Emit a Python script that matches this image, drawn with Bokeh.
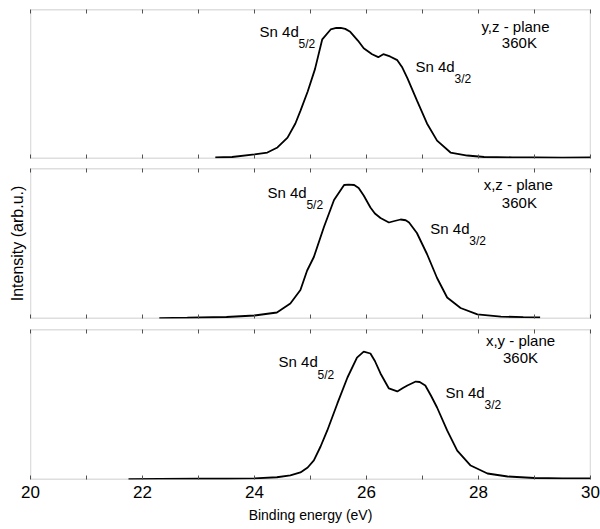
from bokeh.plotting import figure
from bokeh.layouts import column
from bokeh.models import Range1d, FixedTicker, LinearAxis, Label, BoxAnnotation
from bokeh.embed import file_html
from bokeh.resources import INLINE

# ---- data ----
energy_yz = [23.30, 23.6, 24.0, 24.23, 24.41, 24.59, 24.73, 24.82, 24.95, 25.08, 25.21, 25.36,
             25.46, 25.54, 25.62, 25.71, 25.85, 25.95, 26.1, 26.21, 26.3, 26.42, 26.55, 26.64,
             26.73, 26.9, 27.08, 27.26, 27.5, 27.8, 28.1, 28.6, 29.0, 29.5, 30.0]
intensity_yz = [0.007, 0.010, 0.027, 0.040, 0.074, 0.140, 0.235, 0.320, 0.450, 0.600, 0.800, 0.866,
                0.876, 0.877, 0.870, 0.850, 0.790, 0.740, 0.700, 0.680, 0.700, 0.685, 0.660, 0.610,
                0.540, 0.390, 0.235, 0.120, 0.040, 0.020, 0.010, 0.008, 0.007, 0.006, 0.007]

energy_xz = [22.3, 22.8, 23.5, 24.0, 24.4, 24.64, 24.82, 24.94, 25.06, 25.24, 25.42, 25.6,
             25.68, 25.78, 25.86, 25.95, 26.07, 26.15, 26.25, 26.4, 26.5, 26.61, 26.7, 26.76,
             26.9, 27.08, 27.26, 27.44, 27.68, 27.98, 28.4, 28.8, 29.1]
intensity_xz = [0.003, 0.005, 0.010, 0.020, 0.040, 0.100, 0.190, 0.320, 0.410, 0.610, 0.790, 0.890,
                0.893, 0.890, 0.870, 0.820, 0.740, 0.700, 0.670, 0.640, 0.650, 0.660, 0.655, 0.640,
                0.570, 0.430, 0.270, 0.140, 0.070, 0.027, 0.013, 0.009, 0.007]

energy_xy = [21.75, 22.3, 23.0, 23.5, 24.0, 24.4, 24.64, 24.82, 24.95, 25.06, 25.18, 25.3,
             25.48, 25.66, 25.83, 25.95, 26.07, 26.15, 26.25, 26.4, 26.55, 26.65, 26.73, 26.88,
             26.95, 27.05, 27.15, 27.26, 27.44, 27.62, 27.86, 28.16, 28.52, 29.0, 29.5, 30.0]
intensity_xy = [0.003, 0.004, 0.005, 0.005, 0.007, 0.015, 0.027, 0.047, 0.080, 0.127, 0.220, 0.327,
                0.507, 0.680, 0.813, 0.853, 0.840, 0.790, 0.707, 0.607, 0.587, 0.610, 0.627, 0.653,
                0.650, 0.627, 0.560, 0.480, 0.327, 0.193, 0.093, 0.040, 0.020, 0.010, 0.007, 0.007]

plane_names = ["y,z - plane", "x,z - plane", "x,y - plane"]
temperature = "360K"
x_major_ticks = [20, 22, 24, 26, 28, 30]
x_minor_ticks = [21, 23, 25, 27, 29]
x_all_ticks = list(range(20, 31))

X_MIN, X_MAX = 20, 30
Y_MIN, Y_MAX = 0, 1

FONT = "Liberation Sans"
TICK_COLOR = "#555555"
FRAME_COLOR = "#222222"


def tick_axis(show_labels):
    if show_labels:
        ticker = FixedTicker(ticks=x_major_ticks, minor_ticks=x_minor_ticks)
    else:
        ticker = FixedTicker(ticks=[], minor_ticks=x_all_ticks)
    ax = LinearAxis(ticker=ticker,
                    major_tick_in=4, major_tick_out=0, minor_tick_in=4, minor_tick_out=0,
                    major_tick_line_color=TICK_COLOR, minor_tick_line_color=TICK_COLOR,
                    axis_line_color=None, major_label_standoff=0)
    if show_labels:
        ax.major_label_text_font_size = "17px"
        ax.major_label_text_font = FONT
        ax.major_label_text_color = "black"
        ax.major_label_standoff = 6
        ax.axis_label = "Binding energy (eV)"
        ax.axis_label_text_font = FONT
        ax.axis_label_text_font_size = "14px"
        ax.axis_label_text_font_style = "normal"
        ax.axis_label_text_color = "black"
        ax.axis_label_standoff = 6
    return ax


def side_axis(label=None):
    ax = LinearAxis(ticker=FixedTicker(ticks=[]), axis_line_color=None,
                    major_label_standoff=0, major_tick_out=0, major_tick_in=0,
                    minor_tick_out=0, minor_tick_in=0)
    if label:
        ax.axis_label = label
        ax.axis_label_text_font = FONT
        ax.axis_label_text_font_size = "16px"
        ax.axis_label_text_font_style = "normal"
        ax.axis_label_text_color = "black"
        ax.axis_label_standoff = 5
    return ax


def panel(energy, intensity, height, b_top, b_bottom, labels, show_x, ylabel=None):
    p = figure(width=600, height=height, x_range=Range1d(X_MIN, X_MAX),
               y_range=Range1d(Y_MIN, Y_MAX),
               output_backend="svg", toolbar_location=None,
               x_axis_location=None, y_axis_location=None,
               min_border_left=30, min_border_right=10,
               min_border_top=b_top, min_border_bottom=b_bottom)
    p.grid.visible = False
    p.outline_line_color = None
    p.background_fill_color = "white"
    p.border_fill_color = "white"
    p.add_layout(tick_axis(show_x), "below")
    p.add_layout(tick_axis(False), "above")
    if ylabel:
        p.add_layout(side_axis(ylabel), "left")
    # frame box along the plotted range
    p.add_layout(BoxAnnotation(left=X_MIN, right=X_MAX, bottom=Y_MIN, top=Y_MAX,
                               fill_color=None, fill_alpha=0,
                               line_color=FRAME_COLOR, line_width=1.3))
    p.line(energy, intensity, line_color="black", line_width=1.8)

    (x1, y1), (x2, y2) = labels
    for (x, y, sub) in [(x1, y1, "5/2"), (x2, y2, "3/2")]:
        p.add_layout(Label(x=x, y=y, y_offset=5, text="Sn 4d", text_font=FONT,
                           text_font_size="15px", text_color="black",
                           text_baseline="alphabetic", text_align="left"))
        p.add_layout(Label(x=x, y=y, x_offset=39, y_offset=-8, text=sub, text_font=FONT,
                           text_font_size="12px", text_color="black",
                           text_baseline="alphabetic", text_align="left"))
    return p


def add_plane(p, name, xp, yp, xk, yk):
    p.add_layout(Label(x=xp, y=yp, y_offset=5, text=name, text_font=FONT, text_font_size="15px",
                       text_color="black", text_baseline="alphabetic", text_align="center"))
    p.add_layout(Label(x=xk, y=yk, y_offset=5, text=temperature, text_font=FONT,
                       text_font_size="15px", text_color="black",
                       text_baseline="alphabetic", text_align="center"))


p1 = panel(energy_yz, intensity_yz, 163, 9, 5, [(24.09, 0.819), (26.875, 0.584)], False)
add_plane(p1, plane_names[0], 28.66, 0.852, 28.73, 0.745)
p2 = panel(energy_xz, intensity_xz, 160, 5, 5, [(24.23, 0.807), (27.14, 0.567)], False,
           ylabel="Intensity (arb.u.)")
add_plane(p2, plane_names[1], 28.71, 0.86, 28.73, 0.74)
p3 = panel(energy_xy, intensity_xy, 206, 6, 50, [(24.43, 0.753), (27.41, 0.547)], True)
add_plane(p3, plane_names[2], 28.75, 0.893, 28.75, 0.78)

layout = column(p1, p2, p3)
open("out.html", "w").write(file_html(layout, INLINE))
